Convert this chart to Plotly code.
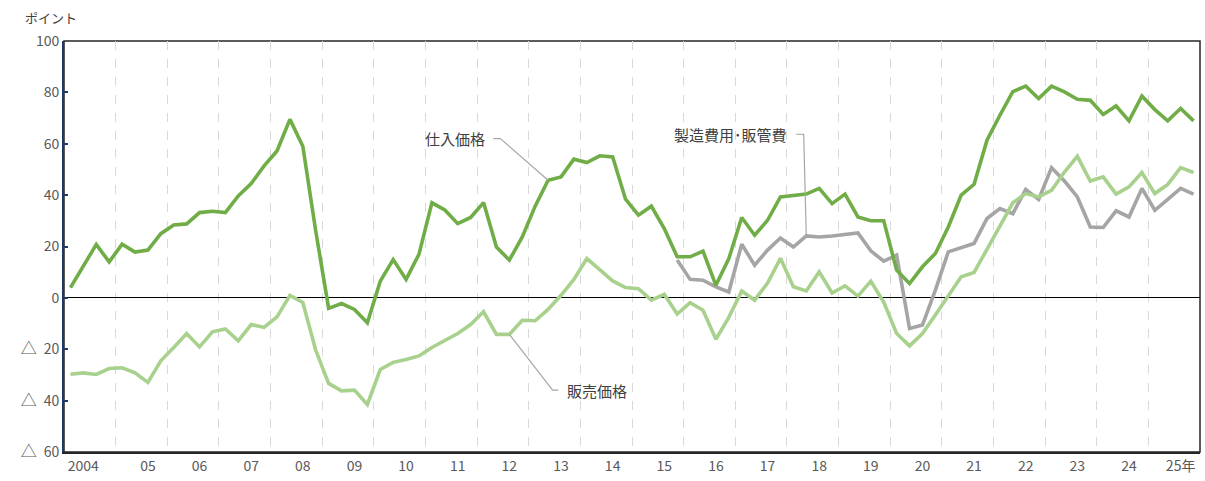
import plotly.graph_objects as go

# Quarterly survey index, 2004Q1 .. 2025Q4 (88 quarters)
years = list(range(2004, 2026))
quarters = [f"{y}Q{q}" for y in years for q in range(1, 5)]

purchase_price = [
    4.0, 12.7, 20.8, 14.0, 20.9, 17.8, 18.6, 25.0,
    28.4, 28.8, 33.2, 33.7, 33.2, 39.7, 44.5, 51.4,
    57.2, 69.5, 59.0, 26.0, -4.1, -2.2, -4.5, -9.7,
    6.5, 14.9, 7.2, 17.0, 37.0, 34.2, 28.9, 31.3,
    37.1, 19.8, 14.7, 23.7, 35.7, 45.8, 47.1, 54.0,
    52.7, 55.3, 54.9, 38.4, 32.2, 35.7, 27.0, 16.0,
    16.0, 18.2, 4.9, 15.3, 31.3, 24.4, 30.2, 39.3,
    39.7, 40.4, 42.6, 36.7, 40.4, 31.5, 30.0, 30.0,
    10.8, 5.6, 12.1, 17.3, 27.6, 40.0, 44.2, 61.4,
    71.1, 80.3, 82.4, 77.6, 82.4, 80.2, 77.3, 76.9,
    71.4, 74.7, 68.9, 78.6, 73.3, 68.9, 73.7, 68.9,
]

selling_price = [
    -29.7, -29.2, -29.8, -27.5, -27.2, -29.2, -32.9, -24.5,
    -19.3, -13.9, -19.1, -13.2, -12.1, -16.7, -10.4, -11.5,
    -7.4, 1.0, -1.8, -20.4, -33.3, -36.2, -35.9, -41.5,
    -27.9, -25.1, -24.0, -22.6, -19.3, -16.7, -13.9, -10.4,
    -5.4, -14.2, -14.2, -8.7, -8.9, -4.5, 1.0, 7.2,
    15.3, 11.0, 6.6, 4.0, 3.6, -0.9, 1.4, -6.3,
    -1.9, -4.8, -16.1, -7.6, 2.7, -0.9, 5.8, 15.4,
    4.3, 2.7, 10.1, 1.9, 4.7, 0.7, 6.5, -1.6,
    -13.9, -18.7, -13.9, -6.7, 1.0, 8.2, 9.9, 18.6,
    27.9, 37.0, 40.6, 39.3, 41.9, 49.0, 55.1, 45.5,
    47.1, 40.4, 43.2, 48.8, 40.6, 44.2, 50.7, 48.8,
]

# 製造費用・販管費: available from 2015Q4
cost_start = 47
costs = [
    14.7, 7.2, 6.9, 4.3, 2.3, 20.9, 12.7, 18.6,
    23.3, 19.8, 24.1, 23.7, 24.1, 24.8, 25.3, 18.3,
    14.3, 16.6, -11.9, -10.6, 3.0, 17.9, 19.6, 21.2,
    30.9, 34.8, 32.8, 42.2, 38.3, 50.7, 45.5, 39.3,
    27.6, 27.4, 33.9, 31.5, 42.6, 34.1, 38.3, 42.6,
    40.4,
]

year_labels = ["2004"] + [f"{y % 100:02d}" for y in years[1:-1]] + ["25年"]
y_ticks = [100, 80, 60, 40, 20, 0, -20, -40, -60]
y_tick_text = ["100", "80", "60", "40", "20", "0", "△ 20", "△ 40", "△ 60"]

C_PURCHASE = "#70AD47"
C_SELLING = "#A9D18E"
C_COST = "#A5A5A5"
TXT = "#404040"
LEAD = "#A6A6A6"
FONT = "Noto Sans CJK JP"

W, H = 1205, 481
ML, MR, MT, MB = 64, 5, 41, 29
PW, PH = W - ML - MR, H - MT - MB

xi = list(range(len(quarters)))
cost_x = xi[cost_start:cost_start + len(costs)]

fig = go.Figure()
fig.add_trace(go.Scatter(x=cost_x, y=costs, mode="lines", name="製造費用・販管費",
                         line=dict(color=C_COST, width=3.6)))
fig.add_trace(go.Scatter(x=xi, y=selling_price, mode="lines", name="販売価格",
                         line=dict(color=C_SELLING, width=3.6)))
fig.add_trace(go.Scatter(x=xi, y=purchase_price, mode="lines", name="仕入価格",
                         line=dict(color=C_PURCHASE, width=3.6)))

# x tick positions: Q3 of each year (first label nudged left)
tickvals = [1] + [4 * k + 2 for k in range(1, len(years))]

# enlarge the triangle glyph to match the reference
y_tick_html = [t.replace("△ ", "<span style='font-size:16px'>△</span>\u2002") for t in y_tick_text]

fig.update_xaxes(
    range=[-0.5, len(quarters) - 0.5],
    tickmode="array", tickvals=tickvals, ticktext=year_labels,
    showgrid=False, zeroline=False,
    showline=True, linecolor="#262626", linewidth=1.5,
    ticks="", tickfont=dict(family=FONT, size=14, color="#595959"),
    minor=dict(tick0=3.5, dtick=4, showgrid=True, gridcolor="#D9D9D9",
               gridwidth=1, griddash="dash", ticks=""),
)
fig.update_yaxes(
    range=[-60, 100],
    tickmode="array", tickvals=y_ticks, ticktext=y_tick_html,
    showgrid=False, zeroline=True, zerolinecolor="#000000", zerolinewidth=1.2,
    showline=True, linecolor="#1F3864", linewidth=2,
    ticks="inside", ticklen=4, tickcolor="#1F3864", tickwidth=1.5,
    tickfont=dict(family=FONT, size=14, color="#595959"),
)

# frame (top/right)
fig.add_shape(type="rect", xref="paper", yref="paper", x0=0, x1=1, y0=0, y1=1,
              line=dict(color="#262626", width=1.5), layer="below")

# leader lines anchored on data points
def leader(points):
    path = "M " + " L ".join(f"{x},{y}" for x, y in points)
    fig.add_shape(type="path", path=path, xref="x", yref="y",
                  line=dict(color=LEAD, width=1.2))

i_p = 37
leader([(32.75, 62.0), (33.3, 62.0), (i_p, purchase_price[i_p])])
i_c = 57
leader([(56.2, 63.7), (56.8, 63.7), (i_c, costs[i_c - cost_start])])
i_s = 34
leader([(i_s, selling_price[i_s]), (37.35, -35.9), (37.8, -35.9)])

fig.add_annotation(x=32.3, y=62.0, xref="x", yref="y", text="仕入価格",
                   showarrow=False, xanchor="right", yanchor="middle",
                   font=dict(family=FONT, size=15, color=TXT))
fig.add_annotation(x=55.7, y=63.7, xref="x", yref="y", text="製造費用･販管費",
                   showarrow=False, xanchor="right", yanchor="middle",
                   font=dict(family=FONT, size=15, color=TXT))
fig.add_annotation(x=38.3, y=-35.9, xref="x", yref="y", text="販売価格",
                   showarrow=False, xanchor="left", yanchor="middle",
                   font=dict(family=FONT, size=15, color=TXT))
fig.add_annotation(x=(23 - ML) / PW, y=(H - MB - 17) / PH, xref="paper", yref="paper",
                   text="ポイント", showarrow=False, xanchor="left", yanchor="middle",
                   font=dict(family=FONT, size=13, color=TXT))

fig.update_layout(
    width=W, height=H,
    margin=dict(l=ML, r=MR, t=MT, b=MB, autoexpand=False),
    plot_bgcolor="white", paper_bgcolor="white",
    showlegend=False,
)

fig.write_html("out.html", config={"displayModeBar": False},
               post_script="document.body.style.margin='0';")
